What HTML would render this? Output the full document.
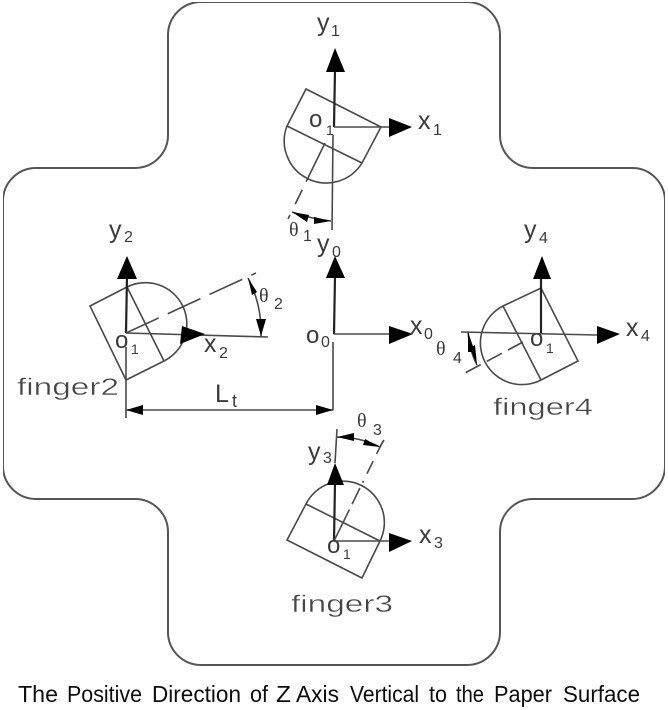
<!DOCTYPE html>
<html><head><meta charset="utf-8"><style>
html,body{margin:0;padding:0;background:#fff}
svg{display:block}
text{font-family:"Liberation Sans",sans-serif;fill:#3a3a3a}
.l{fill:none;stroke:#4a4a4a;stroke-width:1.6}
.a{fill:none;stroke:#222;stroke-width:2.2}
.h{fill:#000;stroke:none}
.d{fill:none;stroke:#4a4a4a;stroke-width:1.6}
.b{font-size:25px}.s{font-size:16px}.o{font-size:24px}.u{font-size:14px}
.th{font-size:20px;font-family:"Liberation Serif",serif}
.f{font-size:24px;fill:#444;stroke:#fff;stroke-width:.4}
.c{font-size:23px;fill:#111}
</style></head><body>
<svg width="668" height="710" viewBox="0 0 668 710" xmlns="http://www.w3.org/2000/svg">
<defs><filter id="f" x="0" y="0" width="100%" height="100%"><feGaussianBlur stdDeviation="0.35"/></filter></defs>
<g filter="url(#f)">
<path d="M201 2H467A33 33 0 0 1 500 35V135A33 33 0 0 0 533 168H632A33 33 0 0 1 665 201V466A33 33 0 0 1 632 499H533A33 33 0 0 0 500 532V632A33 33 0 0 1 467 665H201A33 33 0 0 1 168 632V532A33 33 0 0 0 135 499H36A33 33 0 0 1 3 466V201A33 33 0 0 1 36 168H135A33 33 0 0 0 168 135V35A33 33 0 0 1 201 2Z" fill="none" stroke="#555" stroke-width="2"/>

<!-- finger 1 -->
<path class="l" d="M287 126L306 89L381 127L362 163M287 126L362 163M287 126A42 42 0 0 0 362 163"/>
<path class="a" d="M334 127L335 70"/><polygon class="h" points="335,48 326,72 345,72"/>
<path class="l" d="M334 127H389"/><polygon class="h" points="389,118 389,137 412,127"/>
<path class="d" stroke-dasharray="43 9 16 12 9" d="M325 143L288 219"/><path class="l" d="M333 135L332 230"/>
<path class="l" d="M292 212Q312 219 331 221"/>
<polygon class="h" points="292,212 309,215 307,222"/><polygon class="h" points="331,221 314,217 314,224"/>
<text class="b" x="317" y="31">y</text><text class="s" x="331" y="36">1</text>
<text class="b" x="418" y="129">x</text><text class="s" x="433" y="135">1</text>
<text class="o" x="309" y="127">o</text><text class="u" x="326" y="135">1</text>
<text class="th" x="289" y="236">θ</text><text class="s" x="303" y="241">1</text>

<!-- frame 0 -->
<path class="a" d="M334 334L335 276"/><polygon class="h" points="335,256 326,278 345,278"/>
<path class="l" d="M334 334H390"/><polygon class="h" points="389,326 389,344 413,334"/>
<path class="l" d="M333 342V410"/>
<text class="b" x="317" y="252">y</text><text class="s" x="332" y="257">0</text>
<text class="b" x="410" y="334">x</text><text class="s" x="424" y="339">0</text>
<text class="o" x="306" y="343">o</text><text class="s" x="321" y="347">0</text>

<!-- finger 2 -->
<path class="l" d="M127 287L90 306L126 380L164 361M127 287L164 361M127 287A41 41 0 0 1 164 361"/>
<path class="a" d="M126 333L127 276"/><polygon class="h" points="127,256 117,279 137,279"/>
<path class="l" d="M126 333L268 337"/><polygon class="h" points="182,326 180,344 205,334"/>
<path class="d" stroke-dasharray="36 10" d="M126 333L256 273"/>
<path class="l" d="M126 347V418M248 278Q262 305 261 336"/>
<polygon class="h" points="248,278 257,292 252,295"/><polygon class="h" points="261,336 256,319 266,319"/>
<text class="b" x="109" y="238">y</text><text class="s" x="124" y="242">2</text>
<text class="b" x="204" y="352">x</text><text class="s" x="219" y="358">2</text>
<text class="o" x="115" y="348">o</text><text class="u" x="131" y="354">1</text>
<text class="th" x="259" y="302">θ</text><text class="s" x="274" y="309">2</text>
<text class="f" x="17" y="395" textLength="102" lengthAdjust="spacingAndGlyphs">finger2</text>

<!-- Lt -->
<path class="l" d="M126 410H333"/>
<polygon class="h" points="126,410 143,405 143,415"/><polygon class="h" points="333,410 316,405 316,415"/>
<text x="215" y="402" style="font-size:25px">L</text><text x="232" y="407" style="font-size:18px">t</text>

<!-- finger 4 -->
<path class="l" d="M503 306L541 288L578 361L541 380M503 306L541 380M503 306A41 41 0 0 0 541 380"/>
<path class="a" d="M541 333L541 276"/><polygon class="h" points="542,256 533,279 551,279"/>
<path class="l" d="M461 332L597 335"/><polygon class="h" points="597,326 597,344 620,334"/>
<path class="d" stroke-dasharray="17 7" d="M523 342L465 373"/>
<path class="l" d="M468 332Q470 352 477 365"/>
<polygon class="h" points="468,332 475,352 468,352"/><polygon class="h" points="477,365 470,348 475,345"/>
<text class="b" x="524" y="238">y</text><text class="s" x="539" y="243">4</text>
<text class="b" x="626" y="336">x</text><text class="s" x="641" y="341">4</text>
<text class="o" x="530" y="346">o</text><text class="u" x="546" y="353">1</text>
<text class="th" x="436" y="355">θ</text><text class="s" x="453" y="363">4</text>
<text class="f" x="493" y="415" textLength="100" lengthAdjust="spacingAndGlyphs">finger4</text>

<!-- finger 3 -->
<path class="l" d="M306 504L287 540L362 578L380 541M306 504L380 541M306 504A41 41 0 0 1 380 541"/>
<path class="a" d="M334 541L335 483"/><polygon class="h" points="335,463 327,485 344,485"/>
<path class="l" d="M334 541H389"/><polygon class="h" points="389,533 389,552 412,541"/>
<path class="d" stroke-dasharray="35 6 18 6 2 8 14 8" d="M334 541L383 441"/>
<path class="l" d="M337 429L335 463M337 437Q360 437 380 447M380 447L384 440"/>
<polygon class="h" points="337,437 354,433 354,441"/><polygon class="h" points="380,447 365,439 363,445"/>
<text class="b" x="308" y="460">y</text><text class="s" x="323" y="463">3</text>
<text class="b" x="419" y="543">x</text><text class="s" x="434" y="548">3</text>
<text class="o" x="327" y="553">o</text><text class="u" x="343" y="559">1</text>
<text class="th" x="357" y="427">θ</text><text class="s" x="373" y="435">3</text>
<text class="f" x="291" y="612" textLength="102" lengthAdjust="spacingAndGlyphs">finger3</text>

<!-- caption -->
<text class="c" x="18" y="702" textLength="40" lengthAdjust="spacingAndGlyphs">The</text>
<text class="c" x="67" y="702" textLength="75" lengthAdjust="spacingAndGlyphs">Positive</text>
<text class="c" x="152" y="702" textLength="89" lengthAdjust="spacingAndGlyphs">Direction</text>
<text class="c" x="250" y="702" textLength="18" lengthAdjust="spacingAndGlyphs">of</text>
<text class="c" x="276" y="702" textLength="15" lengthAdjust="spacingAndGlyphs">Z</text>
<text class="c" x="296" y="702" textLength="43" lengthAdjust="spacingAndGlyphs">Axis</text>
<text class="c" x="350" y="702" textLength="69" lengthAdjust="spacingAndGlyphs">Vertical</text>
<text class="c" x="429" y="702" textLength="18" lengthAdjust="spacingAndGlyphs">to</text>
<text class="c" x="456" y="702" textLength="28" lengthAdjust="spacingAndGlyphs">the</text>
<text class="c" x="494" y="702" textLength="58" lengthAdjust="spacingAndGlyphs">Paper</text>
<text class="c" x="563" y="702" textLength="77" lengthAdjust="spacingAndGlyphs">Surface</text>
</g>
</svg>
</body></html>
